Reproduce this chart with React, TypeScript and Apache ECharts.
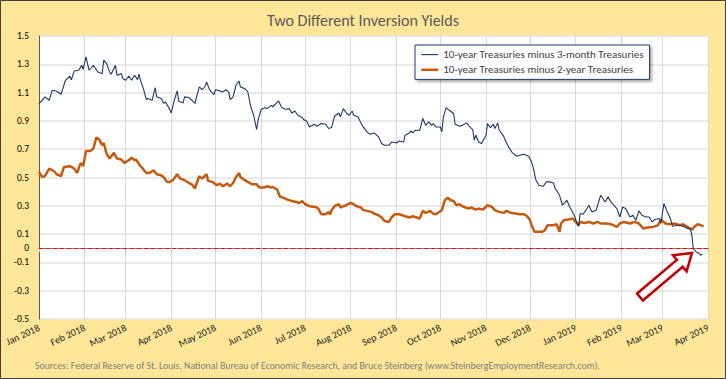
import React, { useEffect, useRef } from "react";
import * as echarts from "echarts";

const MONTHS = ["Jan", "Feb", "Mar", "Apr", "May", "Jun", "Jul", "Aug", "Sep", "Oct", "Nov", "Dec"];

const TITLE = "Two Different Inversion Yields";
const SOURCE = "Sources: Federal Reserve of St. Louis, National Bureau of Economic Research, and Bruce Steinberg (www.SteinbergEmploymentResearch.com).";
const NAME_3M = "10-year Treasuries minus 3-month Treasuries";
const NAME_2Y = "10-year Treasuries minus 2-year Treasuries";

// [day offset from 1 Jan 2018, spread]
const spread10y3m: [number, number][] = [
  [0,1.02],[4,1.07],[7,1.046],[9,1.117],[12,1.11],[15,1.088],[18,1.187],[21,1.216],[22,1.19],[24,1.253],[27,1.258],[29,1.293],[30,1.265],[32,1.352],[34,1.258],[37,1.293],[40,1.246],[43,1.234],[44,1.329],[46,1.305],[48,1.246],[49,1.23],[52,1.293],[53,1.223],[56,1.234],[57,1.199],[59,1.187],[61,1.216],[63,1.187],[65,1.223],[67,1.192],[68,1.23],[69,1.187],[71,1.128],[73,1.05],[74,1.058],[77,1.046],[79,1.136],[80,1.07],[83,1.058],[85,1.023],[86,1.034],[88,0.999],[90,0.956],[92,1.046],[94,1.112],[95,1.041],[98,1.027],[99,1.07],[102,1.065],[104,1.046],[106,1.023],[109,1.14],[111,1.12],[113,1.145],[114,1.175],[116,1.12],[119,1.086],[120,1.12],[123,1.112],[125,1.105],[127,1.12],[129,1.105],[130,1.05],[132,1.07],[134,1.152],[136,1.182],[137,1.14],[140,1.128],[142,1.105],[144,1.0],[146,0.94],[148,0.839],[149,0.905],[151,0.98],[154,0.994],[155,0.987],[158,1.01],[159,1.0],[163,1.041],[165,0.994],[168,0.98],[170,0.987],[172,0.956],[174,0.97],[176,0.94],[179,0.924],[180,0.909],[182,0.9],[184,0.857],[187,0.876],[189,0.862],[192,0.881],[195,0.876],[197,0.846],[199,0.853],[201,0.933],[204,0.956],[205,0.928],[207,0.987],[209,0.956],[211,0.94],[213,0.97],[214,0.94],[217,0.928],[218,0.905],[220,0.865],[223,0.822],[225,0.806],[228,0.815],[231,0.787],[233,0.74],[235,0.728],[238,0.728],[240,0.751],[243,0.744],[245,0.758],[248,0.751],[249,0.799],[252,0.815],[253,0.829],[254,0.815],[256,0.834],[259,0.834],[261,0.917],[263,0.869],[265,0.893],[267,0.869],[268,0.881],[270,0.857],[273,0.857],[274,0.822],[275,0.928],[277,0.994],[279,0.975],[282,0.952],[283,0.876],[286,0.862],[288,0.869],[291,0.886],[292,0.869],[295,0.839],[296,0.763],[297,0.799],[299,0.751],[301,0.74],[304,0.799],[305,0.881],[307,0.853],[309,0.876],[310,0.846],[312,0.886],[313,0.834],[316,0.792],[318,0.744],[320,0.705],[322,0.674],[325,0.65],[327,0.657],[330,0.664],[333,0.65],[335,0.61],[336,0.575],[338,0.48],[340,0.445],[343,0.438],[345,0.469],[347,0.469],[350,0.461],[351,0.422],[352,0.41],[354,0.375],[356,0.304],[359,0.339],[361,0.292],[364,0.233],[366,0.175],[367,0.155],[368,0.245],[370,0.24],[372,0.269],[374,0.304],[376,0.257],[379,0.269],[382,0.375],[385,0.327],[387,0.363],[389,0.327],[393,0.28],[395,0.221],[397,0.292],[399,0.28],[402,0.221],[404,0.233],[406,0.198],[408,0.264],[410,0.233],[413,0.221],[415,0.221],[417,0.186],[419,0.203],[422,0.21],[423,0.175],[425,0.316],[427,0.264],[429,0.221],[431,0.155],[434,0.163],[436,0.163],[439,0.151],[441,0.139],[443,0.139],[444,0.092],[445,-0.005],[447,-0.026],[449,-0.037],[450,-0.049],[451,-0.042]
];

const spread10y2y: [number, number][] = [
  [0,0.539],[2,0.504],[4,0.509],[7,0.563],[10,0.546],[12,0.523],[15,0.509],[17,0.575],[21,0.58],[24,0.563],[26,0.532],[28,0.594],[29,0.599],[30,0.58],[32,0.688],[35,0.688],[37,0.705],[39,0.782],[41,0.768],[43,0.728],[44,0.744],[46,0.669],[48,0.634],[51,0.674],[53,0.634],[56,0.627],[58,0.603],[61,0.622],[63,0.641],[65,0.622],[66,0.627],[68,0.594],[70,0.57],[73,0.532],[75,0.532],[78,0.551],[80,0.523],[83,0.516],[85,0.5],[87,0.469],[89,0.469],[91,0.481],[94,0.523],[96,0.492],[99,0.481],[102,0.461],[104,0.452],[106,0.422],[109,0.509],[111,0.492],[114,0.523],[115,0.476],[118,0.469],[121,0.445],[123,0.457],[125,0.438],[128,0.457],[130,0.438],[132,0.461],[134,0.504],[136,0.532],[137,0.504],[140,0.481],[142,0.469],[145,0.452],[148,0.452],[150,0.429],[153,0.429],[155,0.438],[158,0.429],[159,0.433],[162,0.415],[163,0.386],[164,0.363],[166,0.358],[169,0.344],[172,0.334],[175,0.327],[177,0.32],[179,0.334],[181,0.311],[184,0.297],[188,0.292],[190,0.28],[192,0.24],[195,0.24],[197,0.257],[198,0.24],[199,0.269],[201,0.297],[204,0.311],[205,0.288],[207,0.297],[209,0.304],[212,0.32],[214,0.311],[216,0.297],[219,0.288],[220,0.273],[223,0.264],[226,0.257],[228,0.245],[231,0.233],[233,0.217],[235,0.193],[238,0.186],[240,0.221],[242,0.24],[245,0.24],[249,0.226],[252,0.217],[254,0.226],[257,0.217],[259,0.21],[261,0.264],[263,0.25],[266,0.264],[268,0.245],[270,0.24],[274,0.269],[276,0.339],[278,0.358],[280,0.339],[282,0.334],[284,0.304],[286,0.311],[288,0.297],[292,0.28],[294,0.288],[297,0.273],[299,0.28],[302,0.273],[305,0.304],[308,0.292],[310,0.269],[313,0.257],[316,0.25],[318,0.264],[321,0.25],[324,0.245],[327,0.24],[330,0.24],[332,0.226],[334,0.198],[335,0.163],[337,0.116],[339,0.116],[342,0.116],[344,0.127],[346,0.163],[350,0.163],[352,0.17],[354,0.116],[355,0.175],[357,0.198],[360,0.203],[363,0.21],[365,0.186],[367,0.163],[368,0.186],[371,0.179],[374,0.186],[377,0.175],[380,0.186],[382,0.175],[386,0.175],[389,0.17],[393,0.151],[395,0.175],[398,0.186],[402,0.175],[405,0.186],[408,0.175],[411,0.139],[414,0.146],[418,0.151],[421,0.163],[423,0.203],[426,0.175],[429,0.17],[432,0.175],[436,0.163],[438,0.17],[441,0.151],[444,0.132],[446,0.155],[448,0.17],[450,0.163],[452,0.155]
];

const FONT = "Carlito, Lato, 'Open Sans', sans-serif";

const toTime = (d: number) => new Date(2018, 0, 1 + d).getTime();

function arrowPoints(tail: number[], tip: number[], shaftHalf: number, headHalf: number, headLen: number) {
  const dx = tip[0] - tail[0];
  const dy = tip[1] - tail[1];
  const L = Math.sqrt(dx * dx + dy * dy);
  const ux = dx / L, uy = dy / L;
  const nx = -uy, ny = ux;
  const local = [
    [0, -shaftHalf], [L - headLen, -shaftHalf], [L - headLen, -headHalf], [L, 0],
    [L - headLen, headHalf], [L - headLen, shaftHalf], [0, shaftHalf],
  ];
  return local.map(([u, v]) => [tail[0] + u * ux + v * nx, tail[1] + u * uy + v * ny]);
}

export default function App() {
  const ref = useRef<HTMLDivElement>(null);

  useEffect(() => {
    document.body.style.margin = "0";
    if (!ref.current) return;
    const chart = echarts.init(ref.current, undefined, { renderer: "svg" });

    const option: any = {
      animation: false,
      backgroundColor: "#FFE699",
      textStyle: { fontFamily: FONT },
      grid: { left: 39, top: 36, right: 18, bottom: 60, containLabel: false, show: true, backgroundColor: "#FFFFFF", borderWidth: 0 },
      title: {
        text: TITLE,
        left: "center",
        top: 7,
        textStyle: { fontFamily: FONT, fontSize: 16, fontWeight: "normal", color: "#595959" },
      },
      legend: {
        orient: "vertical",
        left: 415,
        top: 45,
        backgroundColor: "#FFFFFF",
        borderColor: "#203864",
        borderWidth: 1,
        padding: [4, 6, 4, 5],
        itemGap: 4,
        itemWidth: 17,
        itemHeight: 14,
        shadowBlur: 3,
        shadowOffsetX: 2,
        shadowOffsetY: 2,
        shadowColor: "rgba(0,0,0,0.35)",
        itemStyle: { opacity: 0 },
        lineStyle: { width: "inherit", opacity: 1 },
        textStyle: { fontFamily: FONT, fontSize: 11, color: "#404040" },
        data: [NAME_3M, NAME_2Y],
      },
      xAxis: {
        type: "time",
        min: toTime(0),
        max: new Date(2019, 3, 1).getTime(),
        splitNumber: 15,
        minInterval: 28 * 86400000,
        maxInterval: 32 * 86400000,
        axisLine: { show: true, lineStyle: { color: "#808080", width: 1 } },
        axisTick: { show: true, length: 4, lineStyle: { color: "#BFBFBF" } },
        splitLine: { show: true, lineStyle: { color: "#D9D9D9", width: 1 } },
        axisLabel: {
          rotate: 25,
          fontSize: 10,
          color: "#262626",
          margin: 8,
          hideOverlap: false,
          showMinLabel: true,
          showMaxLabel: true,
          formatter: (val: number) => {
            const d = new Date(val);
            return MONTHS[d.getMonth()] + " " + d.getFullYear();
          },
        },
      },
      yAxis: {
        type: "value",
        min: -0.5,
        max: 1.5,
        interval: 0.1,
        axisLine: { show: true, lineStyle: { color: "#595959", width: 1 } },
        axisTick: { show: false },
        splitLine: { show: true, lineStyle: { color: ["#E3E3E3", "rgba(0,0,0,0)"], width: 1.5 } },
        axisLabel: {
          fontSize: 9.5,
          color: "#000000",
          margin: 10,
          formatter: (v: number) => {
            const k = Math.round(v * 10);
            if (k === 0) return "0";
            if (Math.abs(k) % 2 === 1) return (k / 10).toFixed(1);
            return "";
          },
        },
      },
      series: [
        {
          name: NAME_3M,
          type: "line",
          symbol: "none",
          lineStyle: { color: "#203864", width: 1.1 },
          itemStyle: { color: "#203864" },
          data: spread10y3m.map(([d, v]) => [toTime(d), v]),
          markLine: {
            silent: true,
            symbol: "none",
            label: { show: false },
            lineStyle: { color: "#FF0000", type: [4, 3], width: 1.2 },
            data: [{ yAxis: 0 }],
          },
          z: 3,
        },
        {
          name: NAME_2Y,
          type: "line",
          symbol: "none",
          lineStyle: { color: "#C55A11", width: 2.5 },
          itemStyle: { color: "#C55A11" },
          data: spread10y2y.map(([d, v]) => [toTime(d), v]),
          z: 2,
        },
      ],
      graphic: [
        {
          type: "rect",
          shape: { x: 0.5, y: 0.5, width: 725, height: 378 },
          style: { fill: "none", stroke: "#404040", lineWidth: 1 },
          silent: true,
          z: 100,
        },
        {
          type: "polygon",
          shape: { points: arrowPoints([640, 297], [692, 253], 4.5, 10.5, 16) },
          style: { fill: "#FFFFFF", stroke: "#C00000", lineWidth: 2.5 },
          silent: true,
          z: 100,
        },
        {
          type: "text",
          x: 35,
          y: 366,
          style: {
            text: SOURCE,
            fill: "#808080",
            fontFamily: FONT,
            fontSize: 9.8,
            verticalAlign: "middle",
          },
          silent: true,
          z: 100,
        },
      ],
    };

    chart.setOption(option);
    return () => chart.dispose();
  }, []);

  return <div ref={ref} style={{ width: 726, height: 379 }} />;
}
